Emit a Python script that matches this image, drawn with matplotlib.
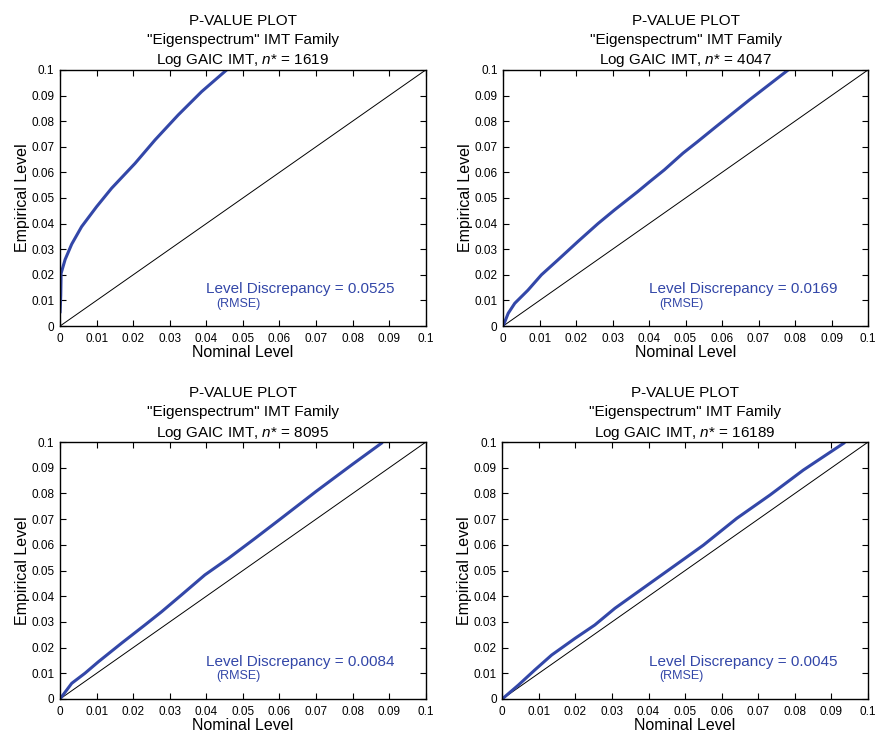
import matplotlib
matplotlib.use("Agg")
import matplotlib.pyplot as plt

plt.rcParams['font.family'] = ['Liberation Sans', 'DejaVu Sans']
plt.rcParams['mathtext.fontset'] = 'custom'
plt.rcParams['mathtext.it'] = 'Liberation Sans:italic'
plt.rcParams['mathtext.rm'] = 'Liberation Sans'

# sample sizes and RMSE of each panel
n_star = [1619, 4047, 8095, 16189]
discrepancy = ["0.0525", "0.0169", "0.0084", "0.0045"]

# nominal / empirical levels per panel
nom_1619 = [0.0, 0.0002, 0.0003, 0.0014, 0.0032, 0.0059, 0.0100, 0.0141, 0.0205,
            0.0260, 0.0323, 0.0387, 0.0458]
emp_1619 = [0.005, 0.012, 0.0206, 0.026, 0.032, 0.0388, 0.0466, 0.0538, 0.0635,
            0.0727, 0.0824, 0.0915, 0.1003]

nom_4047 = [0.0, 0.0014, 0.0032, 0.0068, 0.0105, 0.0150, 0.0205, 0.0260, 0.0305,
            0.0369, 0.0402, 0.0442, 0.0493, 0.0533, 0.0584, 0.0675, 0.0784]
emp_4047 = [0.0, 0.005, 0.0089, 0.014, 0.020, 0.0258, 0.033, 0.040, 0.0453,
            0.0525, 0.0564, 0.061, 0.0675, 0.072, 0.0779, 0.0883, 0.1003]

nom_8095 = [0.0, 0.0032, 0.0068, 0.0105, 0.0168, 0.0232, 0.0278, 0.0332, 0.0396,
            0.0460, 0.0533, 0.0600, 0.0700, 0.0800, 0.0882]
emp_8095 = [0.0, 0.0061, 0.0100, 0.0145, 0.0217, 0.0288, 0.0340, 0.0405, 0.0483,
            0.0547, 0.0625, 0.0698, 0.0808, 0.0914, 0.0999]

nom_16189 = [0.0, 0.0044, 0.0089, 0.0135, 0.0199, 0.0253, 0.0308, 0.0372, 0.0435,
             0.0499, 0.0550, 0.0641, 0.0732, 0.0823, 0.0937]
emp_16189 = [0.0, 0.0054, 0.0113, 0.0171, 0.0236, 0.0288, 0.0353, 0.0418, 0.0482,
             0.0547, 0.0599, 0.0703, 0.0794, 0.0891, 0.0999]

curves = [(nom_1619, emp_1619), (nom_4047, emp_4047),
          (nom_8095, emp_8095), (nom_16189, emp_16189)]

ticks = [0, 0.01, 0.02, 0.03, 0.04, 0.05, 0.06, 0.07, 0.08, 0.09, 0.1]
tick_labels = ["0", "0.01", "0.02", "0.03", "0.04", "0.05", "0.06", "0.07", "0.08", "0.09", "0.1"]

blue = '#3347a8'

fig = plt.figure(figsize=(8.75, 7.36), dpi=100)
boxes = [[0.0686, 0.557, 0.418, 0.348], [0.575, 0.557, 0.417, 0.348],
         [0.0686, 0.0503, 0.418, 0.349], [0.574, 0.0503, 0.418, 0.349]]

for i, box in enumerate(boxes):
    ax = fig.add_axes(box)
    x, y = curves[i]
    ax.plot([0, 0.1], [0, 0.1], color='black', lw=0.7)
    ax.plot(x, y, color=blue, lw=2.2, solid_capstyle='butt')
    ax.set_xlim(0, 0.1)
    ax.set_ylim(0, 0.1)
    ax.set_xticks(ticks)
    ax.set_xticklabels(tick_labels)
    ax.set_yticks(ticks)
    ax.set_yticklabels(tick_labels)
    ax.tick_params(direction='in', top=True, right=True, length=4, width=0.8,
                   labelsize=8.5)
    ax.tick_params(axis='x', pad=5)
    ax.tick_params(axis='y', pad=4)
    for sp in ax.spines.values():
        sp.set_linewidth(1.0)
    ax.set_xlabel("Nominal Level", fontsize=11.5, labelpad=0)
    ax.set_ylabel("Empirical Level", fontsize=11.5, labelpad=1)
    ax.set_title('P-VALUE PLOT\n"Eigenspectrum" IMT Family\n'
                 'Log GAIC IMT, $n$* = %d' % n_star[i],
                 fontsize=11, pad=4, linespacing=1.45)
    ax.text(0.040, 0.0145, "Level Discrepancy = " + discrepancy[i],
            color=blue, fontsize=11, va='center', ha='left')
    ax.text(0.0428, 0.0088, "(RMSE)", color=blue, fontsize=9,
            va='center', ha='left')

fig.savefig("out.png", dpi=100)
